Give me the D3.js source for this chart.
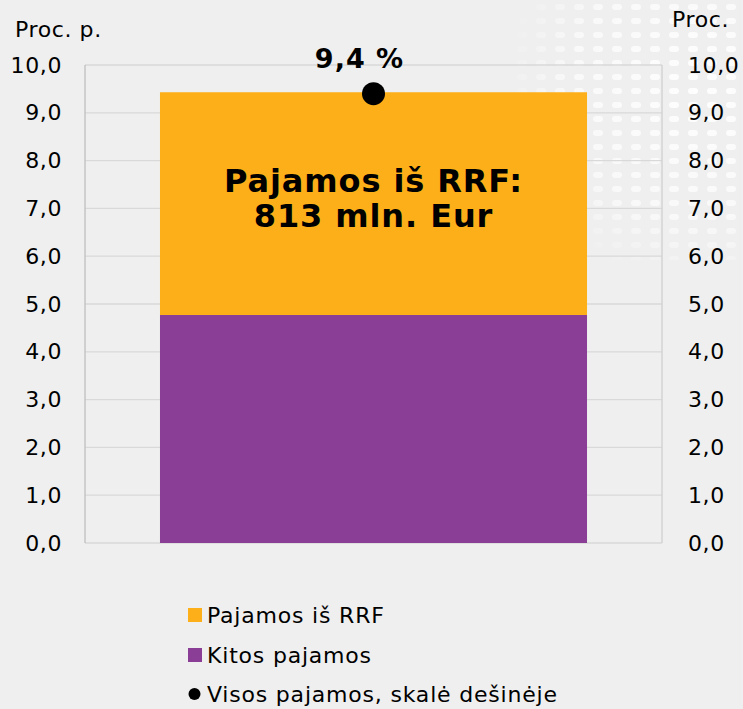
<!DOCTYPE html>
<meta charset="utf-8">
<script src="https://cdn.jsdelivr.net/npm/d3@7"></script>
<html>
<head>
<style>
body { margin: 0; background: #efefef; }
svg { display: block; font-family: "DejaVu Sans", Verdana, sans-serif; }
</style>
</head>
<body>
<div id="chart"></div>
<script>
// data
var categories = ["2021"];
var kitosPajamos = [4.77];
var pajamosRRF = [4.66];
var visosPajamos = [9.4];
var yTicks = [0, 1, 2, 3, 4, 5, 6, 7, 8, 9, 10];
var legendLabels = ["Pajamos iš RRF", "Kitos pajamos", "Visos pajamos, skalė dešinėje"];

var W = 743, H = 709;
var margin = {top: 65, right: 81, bottom: 166, left: 85},
    width = W - margin.left - margin.right,
    height = H - margin.top - margin.bottom;

var svg = d3.select("#chart").append("svg")
  .attr("width", W).attr("height", H);

// faint dotted decoration in top right corner
var defs = svg.append("defs");
var pat = defs.append("pattern").attr("id", "dots")
  .attr("width", 19).attr("height", 14).attr("patternUnits", "userSpaceOnUse");
pat.append("rect").attr("x", 4).attr("y", 4).attr("width", 10).attr("height", 6)
  .attr("rx", 3).attr("fill", "#ffffff");
var grad = defs.append("radialGradient").attr("id", "fade")
  .attr("gradientUnits", "userSpaceOnUse").attr("cx", 700).attr("cy", 90).attr("r", 200);
grad.append("stop").attr("offset", "0%").attr("stop-color", "#fff").attr("stop-opacity", 0.9);
grad.append("stop").attr("offset", "65%").attr("stop-color", "#fff").attr("stop-opacity", 0.6);
grad.append("stop").attr("offset", "100%").attr("stop-color", "#fff").attr("stop-opacity", 0);
var mask = defs.append("mask").attr("id", "m").attr("maskUnits", "userSpaceOnUse")
  .attr("x", 480).attr("y", 0).attr("width", 263).attr("height", 260);
mask.append("rect").attr("x", 480).attr("y", 0).attr("width", 263).attr("height", 260).attr("fill", "url(#fade)");
svg.append("rect").attr("x", 480).attr("y", 0).attr("width", 263).attr("height", 260)
  .attr("fill", "url(#dots)").attr("mask", "url(#m)");

var g = svg.append("g").attr("transform", "translate(" + margin.left + "," + margin.top + ")");

var x = d3.scaleBand().domain(categories).range([0, width]).paddingInner(0).paddingOuter(0.1756);
var y = d3.scaleLinear().domain([0, 10]).range([height, 0]);
var y2 = d3.scaleLinear().domain([0, 10]).range([height, 0]);

// grid
g.selectAll(".grid").data(yTicks).enter().append("line")
  .attr("x1", 0).attr("x2", width)
  .attr("y1", function(d) { return y(d); }).attr("y2", function(d) { return y(d); })
  .attr("stroke", "#d9d9d9").attr("stroke-width", 1.3);
g.append("line").attr("x1", width).attr("x2", width).attr("y1", 0).attr("y2", height)
  .attr("stroke", "#d0d0d0").attr("stroke-width", 1.3);
g.append("line").attr("x1", 0).attr("x2", 0).attr("y1", 0).attr("y2", height)
  .attr("stroke", "#bfbfbf").attr("stroke-width", 1.3);

var fmt = function(d) { return d3.format(".1f")(d).replace(".", ","); };

// left axis
var left = g.append("g").call(d3.axisLeft(y).tickValues(yTicks).tickFormat(fmt).tickSize(0).tickPadding(23));
left.select(".domain").remove();
left.selectAll("text").style("font-size", "22px").style("letter-spacing", "0.6px")
  .attr("fill", "#000").attr("font-family", "DejaVu Sans, Verdana, sans-serif");

// right axis
var right = g.append("g").attr("transform", "translate(" + width + ",0)")
  .call(d3.axisRight(y2).tickValues(yTicks).tickFormat(fmt).tickSize(0).tickPadding(26));
right.select(".domain").remove();
right.selectAll("text").style("font-size", "22px").style("letter-spacing", "0.6px")
  .attr("fill", "#000").attr("font-family", "DejaVu Sans, Verdana, sans-serif");

// stacked bars
var stackData = categories.map(function(c, i) { return {cat: c, kitos: kitosPajamos[i], rrf: pajamosRRF[i]}; });
var series = d3.stack().keys(["kitos", "rrf"])(stackData);
var colors = {kitos: "#8b3e96", rrf: "#fdaf1a"};
g.selectAll(".layer").data(series).enter().append("g")
  .attr("fill", function(d) { return colors[d.key]; })
  .selectAll("rect").data(function(d) { return d; }).enter().append("rect")
  .attr("x", function(d) { return x(d.data.cat); })
  .attr("width", x.bandwidth())
  .attr("y", function(d) { return y(d[1]); })
  .attr("height", function(d) { return y(d[0]) - y(d[1]); });

// bar label
var cx = x(categories[0]) + x.bandwidth() / 2;
var lbl = g.append("text").attr("text-anchor", "middle").attr("font-weight", "bold")
  .style("font-size", "32px").style("letter-spacing", "0.9px").attr("fill", "#000");
lbl.append("tspan").attr("x", cx).attr("y", 192 - margin.top).text("Pajamos iš RRF:");
lbl.append("tspan").attr("x", cx).attr("dy", 35).text("813 mln. Eur");

// total point
g.selectAll(".dot").data(visosPajamos).enter().append("circle")
  .attr("cx", cx).attr("cy", function(d) { return y2(d); }).attr("r", 11.5).attr("fill", "#000");
g.append("text").attr("x", cx - 14).attr("y", y2(visosPajamos[0]) - 26)
  .attr("text-anchor", "middle").attr("font-weight", "bold").style("font-size", "27px")
  .style("letter-spacing", "1px")
  .text(fmt(visosPajamos[0]) + " %");

// axis titles
svg.append("text").attr("x", 15).attr("y", 37).style("font-size", "22px").style("letter-spacing", "0.6px").text("Proc. p.");
svg.append("text").attr("x", 672).attr("y", 27).style("font-size", "22px").style("letter-spacing", "0.6px").text("Proc.");

// legend
var lg = svg.append("g").attr("transform", "translate(188,0)");
var ly = [623, 663, 702];
lg.append("rect").attr("x", 0).attr("y", ly[0] - 15).attr("width", 14).attr("height", 14).attr("fill", colors.rrf);
lg.append("rect").attr("x", 0).attr("y", ly[1] - 15).attr("width", 14).attr("height", 14).attr("fill", colors.kitos);
lg.append("circle").attr("cx", 6.5).attr("cy", ly[2] - 8).attr("r", 6).attr("fill", "#000");
lg.selectAll(".lt").data(legendLabels).enter().append("text")
  .attr("x", 19).attr("y", function(d, i) { return ly[i]; })
  .style("font-size", "22px").style("letter-spacing", "0.8px").text(function(d) { return d; });
</script>
</body>
</html>
